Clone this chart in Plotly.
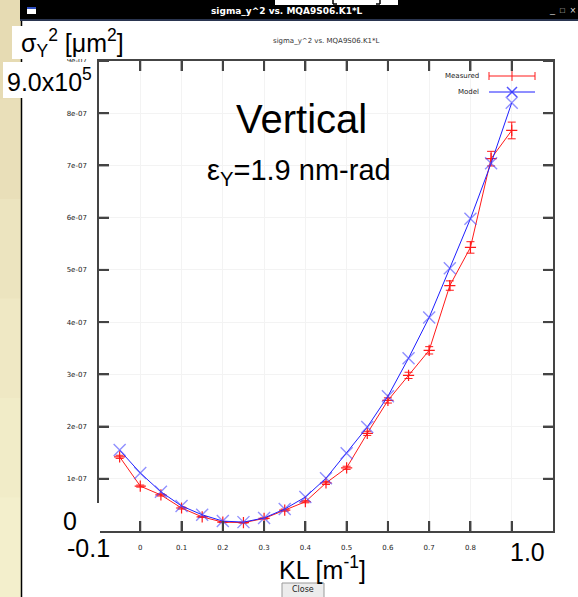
import plotly.graph_objects as go

# ---------------- data ----------------
kl = [-0.05, 0.0, 0.05, 0.10, 0.15, 0.20, 0.25, 0.30, 0.35, 0.40,
      0.45, 0.50, 0.55, 0.60, 0.65, 0.70, 0.75, 0.80, 0.85, 0.90]
measured = [1.42e-7, 0.86e-7, 0.69e-7, 0.44e-7, 0.27e-7, 0.17e-7, 0.16e-7, 0.24e-7, 0.40e-7, 0.56e-7,
            0.92e-7, 1.21e-7, 1.87e-7, 2.50e-7, 2.98e-7, 3.46e-7, 4.70e-7, 5.43e-7, 7.13e-7, 7.67e-7]
measured_err = [0.03e-7, 0.02e-7, 0.02e-7, 0.02e-7, 0.01e-7, 0.01e-7, 0.01e-7, 0.01e-7, 0.02e-7, 0.02e-7,
                0.03e-7, 0.03e-7, 0.04e-7, 0.05e-7, 0.06e-7, 0.07e-7, 0.09e-7, 0.11e-7, 0.14e-7, 0.16e-7]
model = [1.55e-7, 1.11e-7, 0.75e-7, 0.48e-7, 0.31e-7, 0.19e-7, 0.17e-7, 0.25e-7, 0.42e-7, 0.65e-7,
         1.01e-7, 1.49e-7, 1.99e-7, 2.58e-7, 3.31e-7, 4.09e-7, 5.03e-7, 5.98e-7, 7.04e-7, 8.20e-7]

x_tickvals = [0.0, 0.1, 0.2, 0.3, 0.4, 0.5, 0.6, 0.7, 0.8, 0.9]
x_ticktext = ["0", "0.1", "0.2", "0.3", "0.4", "0.5", "0.6", "0.7", "0.8", "0.9"]
y_tickvals = [1e-7, 2e-7, 3e-7, 4e-7, 5e-7, 6e-7, 7e-7, 8e-7, 9e-7]
y_ticktext = ["1e-07", "2e-07", "3e-07", "4e-07", "5e-07", "6e-07", "7e-07", "8e-07", "9e-07"]

window_title = "sigma_y^2 vs. MQA9S06.K1*L"
series_names = ["Measured", "Model"]

# ---------------- geometry helpers ----------------
W, H = 578, 597
L, R, T, B = 99, 553, 61, 531


def px(x):
    return (x - L) / (R - L)


def py(y):
    return (B - y) / (B - T)


RED = "#ff1a1a"
BLUE = "#1f1fff"
AXC = "#444444"
FONT = "Liberation Sans, Arial, sans-serif"
TICKFONT = "DejaVu Sans, sans-serif"

fig = go.Figure()

fig.add_trace(go.Scatter(
    x=kl, y=measured, mode="lines+markers", name=series_names[0],
    line=dict(color=RED, width=1),
    marker=dict(symbol="cross-thin", size=8, line=dict(color=RED, width=1.2), color=RED),
    error_y=dict(type="data", array=measured_err, visible=True, color=RED, thickness=1, width=4),
    showlegend=False,
))
fig.add_trace(go.Scatter(
    x=kl, y=model, mode="lines+markers", name=series_names[1],
    line=dict(color=BLUE, width=1),
    marker=dict(symbol="x-thin", size=12, line=dict(color="rgba(70,70,255,0.6)", width=1.4), color=BLUE),
    showlegend=False,
))

# legend samples on an overlay axis in [0,1] coordinates
lx = px(512)
fig.add_trace(go.Scatter(
    x=[lx], y=[py(76)], xaxis="x2", yaxis="y2", mode="markers",
    marker=dict(symbol="line-ns", size=7, line=dict(color=RED, width=1), color=RED),
    error_x=dict(type="constant", value=px(535) - lx, color=RED, thickness=1, width=4),
    showlegend=False, hoverinfo="skip",
))
fig.add_trace(go.Scatter(
    x=[px(489), px(535)], y=[py(92), py(92)], xaxis="x2", yaxis="y2", mode="lines",
    line=dict(color=BLUE, width=1), showlegend=False, hoverinfo="skip",
))
fig.add_trace(go.Scatter(
    x=[lx], y=[py(92)], xaxis="x2", yaxis="y2", mode="markers",
    marker=dict(symbol="x-thin", size=10, line=dict(color="rgba(40,40,255,0.8)", width=1.5), color=BLUE),
    showlegend=False, hoverinfo="skip",
))

axis_common = dict(
    showline=True, linecolor=AXC, linewidth=1.5, mirror="allticks",
    ticks="inside", ticklen=10, tickwidth=2, tickcolor=AXC,
    showgrid=True, gridcolor="#f3f3f3", gridwidth=1, zeroline=False,
    tickfont=dict(family=TICKFONT, size=7, color="#222222"),
)

fig.update_layout(
    width=W, height=H,
    margin=dict(l=L, r=W - R, t=T, b=H - B, pad=0),
    paper_bgcolor="white", plot_bgcolor="white",
    xaxis=dict(range=[-0.1, 1.0], tickvals=x_tickvals, ticktext=x_ticktext,
               ticklabelstandoff=9, **axis_common),
    yaxis=dict(range=[0, 9e-7], tickvals=y_tickvals, ticktext=y_ticktext,
               ticklabelstandoff=9, **axis_common),
    xaxis2=dict(overlaying="x", range=[0, 1], showgrid=False, showticklabels=False,
                showline=False, zeroline=False, ticks="", fixedrange=True),
    yaxis2=dict(overlaying="y", range=[0, 1], showgrid=False, showticklabels=False,
                showline=False, zeroline=False, ticks="", fixedrange=True),
    showlegend=False,
)

shapes = []

# inward tick marks on all four sides, placed through the axis scales
for v in x_tickvals:
    for anchor, sign in ((0, 1), (1, -1)):
        shapes.append(dict(type="line", xref="x", yref="paper", ysizemode="pixel",
                           yanchor=anchor, x0=v, x1=v, y0=0, y1=10 * sign,
                           line=dict(color=AXC, width=2), layer="above"))
for v in y_tickvals:
    for anchor, sign in ((0, 1), (1, -1)):
        shapes.append(dict(type="line", yref="y", xref="paper", xsizemode="pixel",
                           xanchor=anchor, y0=v, y1=v, x0=0, x1=10 * sign,
                           line=dict(color=AXC, width=2), layer="above"))


def rect(x0, y0, x1, y1, color, layer="above", line=None):
    shapes.append(dict(type="rect", xref="paper", yref="paper",
                       x0=px(x0), x1=px(x1), y0=py(y1), y1=py(y0),
                       fillcolor=color, layer=layer,
                       line=line if line else dict(width=0)))


def seg(x0, y0, x1, y1, color, width=1):
    shapes.append(dict(type="line", xref="paper", yref="paper",
                       x0=px(x0), x1=px(x1), y0=py(y0), y1=py(y1),
                       line=dict(color=color, width=width), layer="above"))


# beige desktop strip on the left (gradient bands)
band_cols = ["#e6dbb3", "#e9dfb9", "#ece4bf", "#efe8c4", "#f1ecc8", "#f3efcc"]
nb = len(band_cols)
for i, c in enumerate(band_cols):
    rect(0, H * i / nb, 21, H * (i + 1) / nb + 1, c)
# window border
seg(21.5, 0, 21.5, H, "#000000", 1.5)
# title bar
rect(20, 0, W, 19, "#000000")
rect(20, 19, W, 21, "#2a3550")
# window icon
rect(27, 7, 36, 14, "#ffffff")
rect(27, 7, 36, 9, "#3050c0")
# slide overlay fragment at top
rect(275, 0, 398, 5, "#ffffff")
seg(333, 0, 333, 4, "#000000", 1.5)
seg(333, 4, 337, 4, "#000000", 1.5)
seg(380, 0, 380, 4, "#000000", 1.5)
seg(376, 4, 380, 4, "#000000", 1.5)

# white boxes of the slide text overlays
rect(12, 26, 130, 59, "#ffffff")
rect(3, 62, 97, 98, "#ffffff")
rect(58, 503, 100, 537, "#ffffff")
rect(60, 535, 112, 566, "#ffffff")
rect(503, 537, 550, 568, "#ffffff")
rect(270, 552, 375, 582, "#ffffff")
# close button
rect(282, 583, 324, 600, "#ececec", line=dict(color="#9a9a9a", width=1))

annotations = []


def text(x, y, s, size, color="#000000", family=FONT, xanchor="center"):
    annotations.append(dict(x=px(x), y=py(y), xref="paper", yref="paper",
                            text=s, showarrow=False, xanchor=xanchor, yanchor="middle",
                            font=dict(family=family, size=size, color=color)))


# window title bar text and buttons
text(287, 11, "<b>" + window_title + "</b>", 9, "#ffffff", family=TICKFONT)
text(552, 10, "_", 9, "#dddddd")
text(562, 11, "□", 8, "#dddddd")
text(573, 11, "×", 10, "#dddddd")
# plot title
text(326, 41, window_title, 7, "#333333", family=TICKFONT)
# legend labels
text(481, 76, series_names[0], 7, "#222222", family=TICKFONT, xanchor="right")
text(481, 92, series_names[1], 7, "#222222", family=TICKFONT, xanchor="right")
# slide overlay texts
text(72, 43, "σ<sub>Y</sub><sup>2</sup> [μm<sup>2</sup>]", 25)
text(49, 80, "9.0x10<sup>5</sup>", 25)
text(301, 119, "Vertical", 40)
text(299, 172, "ε<sub>Y</sub>=1.9 nm-rad", 29)
text(70, 521, "0", 25)
text(88, 548, "-0.1", 25)
text(527, 552, "1.0", 25)
text(322, 568, "KL [m<sup>-1</sup>]", 25)
text(303, 589, "Close", 8, "#222222", family=TICKFONT)

fig.update_layout(shapes=shapes, annotations=annotations)

fig.write_html("out.html", config={"displayModeBar": False},
               post_script="document.body.style.margin='0';document.body.style.overflow='hidden';")
